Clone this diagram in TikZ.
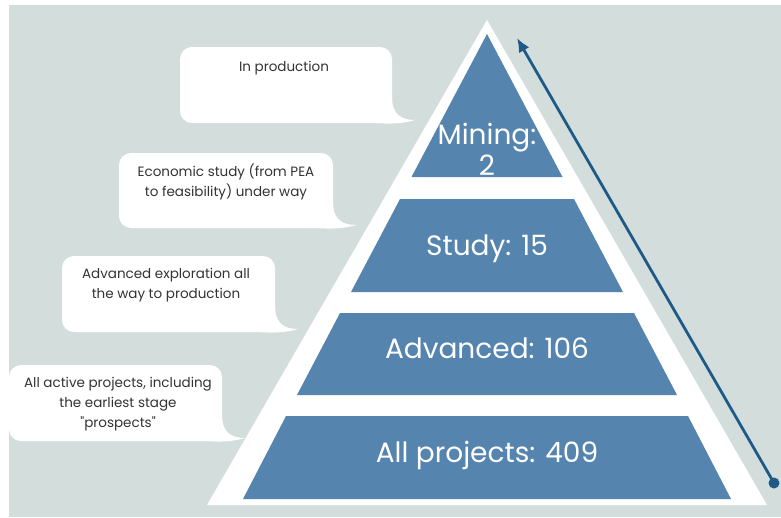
\documentclass[tikz,border=0pt]{standalone}
\usepackage{fontspec}
\setmainfont{Poppins}
\usetikzlibrary{arrows.meta}

\begin{document}
\begin{tikzpicture}[x=1pt,y=-1pt,line cap=rect,
  bubbletext/.style={inner sep=0, outer sep=0, custcol_33_33_33, align=center, font=\fontsize{13.5pt}{20pt}\selectfont},
  bandlabel/.style={inner sep=0, outer sep=0, white, align=center, font=\fontsize{28pt}{31pt}\selectfont}]
\definecolor{custcol_d3_de_dc}{RGB}{211, 222, 220}
\definecolor{custcol_55_84_ae}{RGB}{85, 132, 174}
\definecolor{custcol_1f_5a_87}{RGB}{31, 90, 135}
\definecolor{custcol_33_33_33}{RGB}{51, 51, 51}
\def\speechbubble#1#2#3#4{%
  \fill [white, rounded corners=12pt]  (#1,#2) rectangle (#3,#4) ;
  \fill [white]  (#3,#4-26) .. controls (#3,#4-8) and (#3+10,#4-3) .. (#3+23,#4-3) .. controls (#3+10,#4+1) and (#3-4,#4+1) .. (#3-16,#4) -- cycle ;}
\useasboundingbox (0,0) rectangle (781,517);
\fill [white]  (0,0) rectangle (781,517) ;
\fill [custcol_d3_de_dc]  (9,5) rectangle (781,517) ;
% pyramid
\fill [white]  (487,20) -- (767,505) -- (207,505) -- cycle ;
\fill [custcol_55_84_ae]  (487,34) -- (562.5,177) -- (411.5,177) -- cycle ;
\fill [custcol_55_84_ae]  (400,199) -- (574,199) -- (623,292) -- (351,292) -- cycle ;
\fill [custcol_55_84_ae]  (340,313) -- (634,313) -- (677,395) -- (297,395) -- cycle ;
\fill [custcol_55_84_ae]  (286,416) -- (688,416) -- (731,499) -- (243,499) -- cycle ;
\node[bandlabel] (mining) at (487,149) {Mining:\\2};
\node[bandlabel] (study) at (487,249) {Study: 15};
\node[bandlabel] (advanced) at (487,348) {Advanced: 106};
\node[bandlabel] (allprojects) at (487,455) {All projects: 409};
% arrow
\coordinate (arrowtail) at (774,483);
\coordinate (arrowhead) at (517,38);
\fill [custcol_1f_5a_87]  (arrowtail) ellipse (5.5 and 5.5) ;
\draw [line width=2.8pt, custcol_1f_5a_87, -{Latex[length=14pt,width=12pt]}]  (arrowtail) -- (arrowhead) ;
% bubbles
\speechbubble{180}{47}{392}{123}
\speechbubble{119}{153}{333}{228}
\speechbubble{62}{256}{275}{332}
\speechbubble{9}{365}{222}{441}
\node[bubbletext] (inproduction) at (284,68) {In production};
\node[bubbletext] (economic) at (226,182) {Economic study (from PEA\\to feasibility) under way};
\node[bubbletext] (exploration) at (166,285) {Advanced exploration all\\the way to production};
\node[bubbletext] (activeprojects) at (118,404) {All active projects, including\\the earliest stage\\\textquotedbl prospects\textquotedbl};
\end{tikzpicture}
\end{document}
